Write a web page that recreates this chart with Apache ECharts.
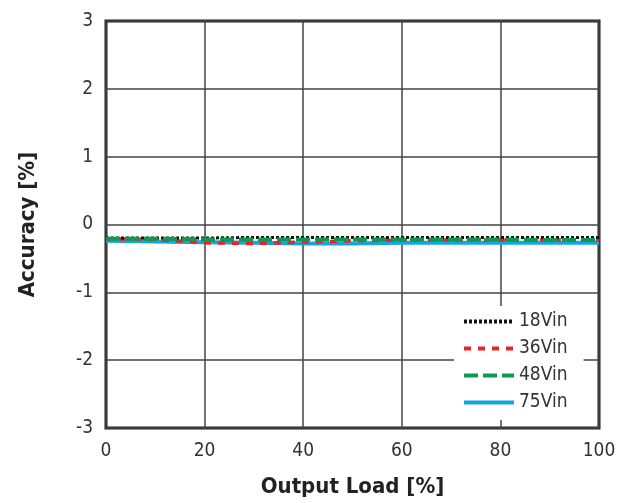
<!DOCTYPE html>
<html><head><meta charset="utf-8">
<script src="https://cdn.jsdelivr.net/npm/echarts@6/dist/echarts.min.js"></script>
<style>html,body{margin:0;padding:0;background:#fff}#c{width:627px;height:503px}</style>
</head><body><div id="c"></div>
<script>
const loads = [0,10,20,30,40,50,60,70,80,90,100];
const v18 = [-0.20,-0.20,-0.20,-0.19,-0.19,-0.19,-0.19,-0.19,-0.19,-0.19,-0.19];
const v36 = [-0.21,-0.22,-0.27,-0.28,-0.26,-0.24,-0.23,-0.23,-0.23,-0.23,-0.23];
const v48 = [-0.21,-0.21,-0.22,-0.22,-0.22,-0.22,-0.22,-0.22,-0.22,-0.23,-0.23];
const v75 = [-0.24,-0.25,-0.26,-0.27,-0.28,-0.28,-0.27,-0.27,-0.27,-0.27,-0.27];
const names = ['18Vin','36Vin','48Vin','75Vin'];
const FONT = '"DejaVu Sans Condensed","Liberation Sans Narrow",sans-serif';
const pair = a => loads.map((x,i)=>[x,a[i]]);
const chart = echarts.init(document.getElementById('c'));
chart.setOption({
  animation:false,
  grid:{left:106,top:21,right:28,bottom:73,show:true,borderColor:'#1a1f1f',borderWidth:3,backgroundColor:'transparent'},
  xAxis:{type:'value',min:0,max:100,interval:20,
    name:'Output Load [%]',nameLocation:'middle',nameGap:48,
    nameTextStyle:{fontFamily:FONT,fontSize:22,fontWeight:'bold',color:'#222'},
    axisLine:{show:false},axisTick:{show:false},
    axisLabel:{fontFamily:FONT,fontSize:19,color:'#333',margin:14},
    splitLine:{show:true,lineStyle:{color:'#444',width:1.5}}},
  yAxis:{type:'value',min:-3,max:3,interval:1,
    name:'Accuracy [%]',nameLocation:'middle',nameGap:67,
    nameTextStyle:{fontFamily:FONT,fontSize:22,fontWeight:'bold',color:'#222'},
    axisLine:{show:false},axisTick:{show:false},
    axisLabel:{fontFamily:FONT,fontSize:19,color:'#333',margin:13},
    splitLine:{show:true,lineStyle:{color:'#444',width:1.5}}},
  legend:{orient:'vertical',left:454,top:306,itemWidth:50,itemHeight:10,itemGap:8,
    backgroundColor:'#fff',padding:[6,16,8,8],
    itemStyle:{opacity:0},lineStyle:{width:4},
    textStyle:{fontFamily:FONT,fontSize:19,color:'#333'},data:names},
  series:[
    {name:'18Vin',type:'line',symbol:'none',data:pair(v18),z:5,
      lineStyle:{color:'#111',width:3,type:[3,2]},itemStyle:{color:'#111'}},
    {name:'36Vin',type:'line',symbol:'none',data:pair(v36),z:4,
      lineStyle:{color:'#e8242b',width:3.5,type:[7,7]},itemStyle:{color:'#e8242b'}},
    {name:'48Vin',type:'line',symbol:'none',data:pair(v48),z:6,
      lineStyle:{color:'#0d9a4e',width:4,type:[14,5]},itemStyle:{color:'#0d9a4e'}},
    {name:'75Vin',type:'line',symbol:'none',data:pair(v75),z:3,
      lineStyle:{color:'#15a6e0',width:4},itemStyle:{color:'#15a6e0'}}
  ]
});
</script></body></html>
